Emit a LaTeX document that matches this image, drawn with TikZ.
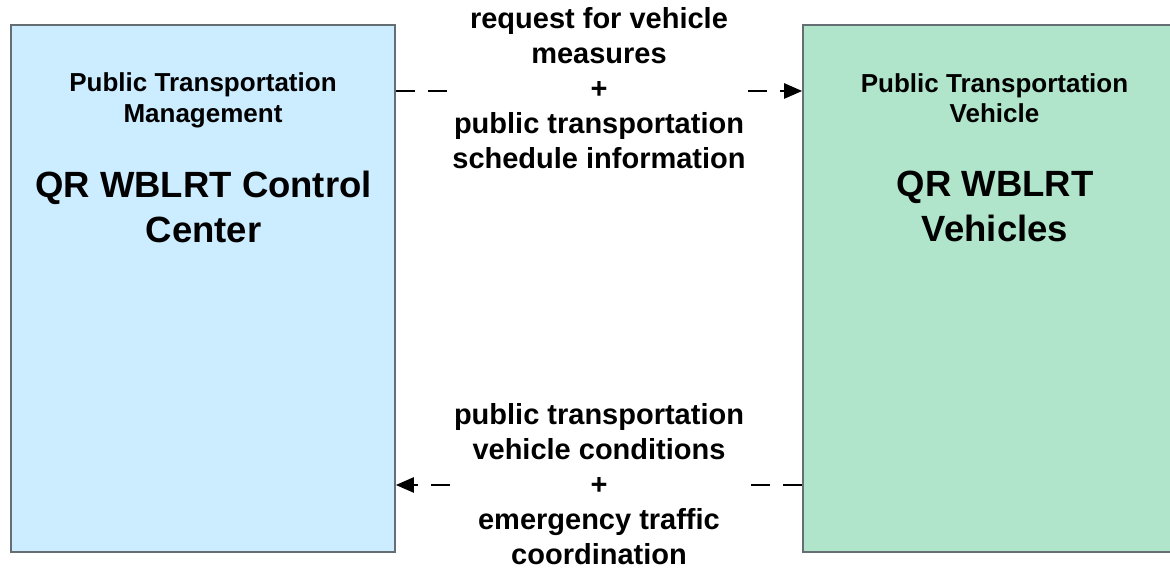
\documentclass[tikz,border=0pt]{standalone}
\usepackage{fontspec}
\setmainfont{Liberation Sans}
\usetikzlibrary{arrows.meta}
\definecolor{pmfill}{RGB}{204,236,255}
\definecolor{pvfill}{RGB}{176,229,204}
\definecolor{boxedge}{RGB}{100,110,115}
\begin{document}
\begin{tikzpicture}[x=1pt,y=1pt,
  boxshape/.style={draw=boxedge,line width=1.6pt,rectangle,inner sep=0pt},
  titletext/.style={align=center,inner sep=0pt,font=\bfseries\fontsize{26}{30.5}\selectfont},
  bigtext/.style={align=center,inner sep=0pt,font=\bfseries\fontsize{36.5}{45}\selectfont},
  flowlabel/.style={align=center,fill=white,inner sep=2pt,font=\bfseries\fontsize{29}{35}\selectfont},
  flow/.style={line width=2.4pt,dash pattern=on 19pt off 13pt,-{Triangle[length=18pt,width=15pt]}}]
\useasboundingbox (0,0) rectangle (1170,572);
\clip (0,0) rectangle (1170,572);
\node[boxshape,fill=pmfill,minimum width=384pt,minimum height=527pt] (pm) at (203,283.5) {};
\node[boxshape,fill=pvfill,minimum width=383pt,minimum height=527pt] (pv) at (994.5,283.5) {};
\node[titletext] (pmt) at (203,471.5) {Public Transportation\\Management};
\node[bigtext] (pmb) at (203.5,365.5) {QR WBLRT Control\\Center};
\node[titletext] (pvt) at (994.5,474) {Public Transportation\\Vehicle};
\node[bigtext] (pvb) at (995,365.5) {QR WBLRT\\Vehicles};
\coordinate (a1) at (pm.east |- 0,481);
\coordinate (b1) at (pv.west |- 0,481);
\coordinate (a2) at (pv.west |- 0,87);
\coordinate (b2) at (pm.east |- 0,87);
\draw[flow] (a1) -- (b1);
\draw[flow] (a2) -- (b2);
\node[flowlabel] (l1) at (599,483.5) {request for vehicle\\measures\\+\\public transportation\\schedule information};
\node[flowlabel] (l2) at (599,88) {public transportation\\vehicle conditions\\+\\emergency traffic\\coordination};
\end{tikzpicture}
\end{document}
